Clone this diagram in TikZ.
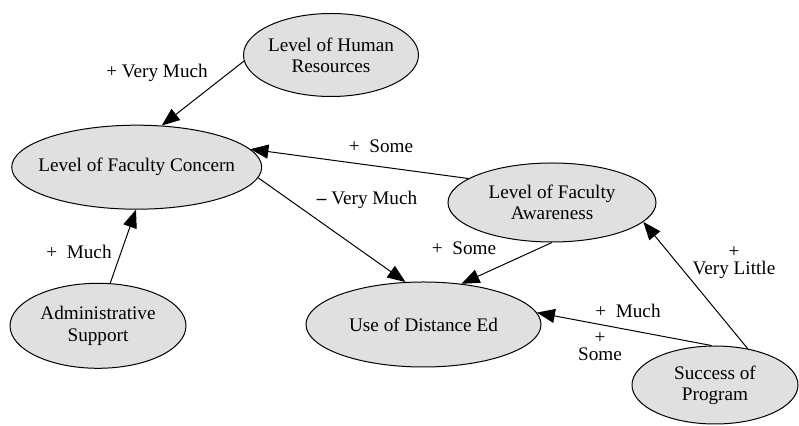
\documentclass[tikz,border=0pt]{standalone}
\usepackage{fontspec}
\setmainfont{Liberation Serif}
\usetikzlibrary{arrows.meta,shapes.geometric}
\definecolor{ellgray}{gray}{0.88}

\begin{document}
\begin{tikzpicture}[x=0.5pt,y=-0.5pt,
  every node/.style={font=\fontsize{9.6}{10.6}\selectfont,align=center},
  concept/.style={ellipse,draw,fill=ellgray,line width=0.5pt,inner xsep=-10pt,inner ysep=0pt},
  link/.style={-{Triangle[length=9pt,width=7pt]},line width=0.5pt}]
  \useasboundingbox (0,0) rectangle (799,426);

  \node[concept,minimum width=87.5pt,minimum height=41.5pt] (hr) at (331,55) {Level of Human\\Resources};
  \node[concept,minimum width=125pt,minimum height=42pt] (fc) at (136.7,167.2) {Level of Faculty Concern};
  \node[concept,minimum width=104pt,minimum height=39.5pt] (fa) at (552,202.5) {Level of Faculty\\Awareness};
  \node[concept,minimum width=117.5pt,minimum height=42.5pt] (ude) at (423.5,324.5) {Use of Distance Ed};
  \node[concept,minimum width=88pt,minimum height=42.5pt] (as) at (98,325.8) {Administrative\\Support};
  \node[concept,minimum width=83pt,minimum height=39pt] (sp) at (715,385) {Success of\\Program};

  \draw[link] (hr.184) -- (fc.59);
  \draw[link] (fa.164) -- (fc.9);
  \draw[link] (fc.-5) -- (ude.113);
  \draw[link] (as.74) -- (fc.-91);
  \draw[link] (fa.-90) -- (ude.47);
  \draw[link] (sp.95) -- (ude.6);
  \draw[link] (sp.48) -- (fa.-12);

  \node (la) at (157,73) {+ Very Much};
  \node (lb) at (381,146) {+\enspace Some};
  \node (lc) at (367,200) {\textbf{--} Very Much};
  \node (ld) at (79,252) {+\enspace Much};
  \node (le) at (464,248) {+\enspace Some};
  \node (lf) at (628,311) {+\enspace Much};
  \node (lg) at (600,347) {+\\[-2pt]Some};
  \node (lh) at (734,263) {+\\[-2pt]Very Little};
\end{tikzpicture}
\end{document}
